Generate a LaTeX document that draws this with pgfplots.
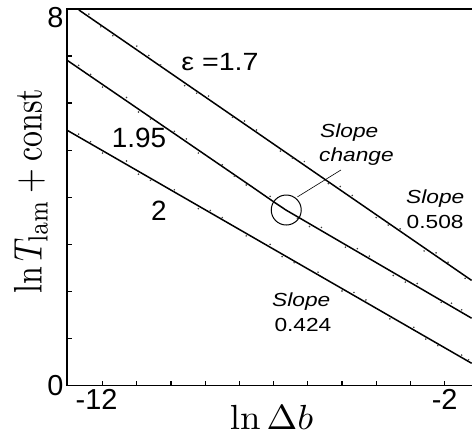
\documentclass[border=0pt]{standalone}
\usepackage[no-math]{fontspec}
\setmainfont{Liberation Sans}
\usepackage{pgfplots}
\pgfplotsset{compat=1.18}

\begin{document}
\begin{tikzpicture}[x=1bp,y=1bp]
\path[use as bounding box] (0,0) rectangle (472,438);
\begin{axis}[
  at={(67bp,52.3bp)}, anchor=south west,
  scale only axis, width=411.8bp, height=376.8bp,
  xmin=-13.04, xmax=-1, ymin=0, ymax=8,
  axis line style={line width=1.5bp},
  tick style={line width=1.2bp, black},
  major tick length=5bp, tick align=inside,
  xtick pos=left, ytick pos=left,
  xtick={-12}, xticklabels={-12\hspace*{12bp}},
  extra x ticks={-11,-10,-9,-8,-7,-6,-5,-4,-3,-2},
  extra x tick labels={,,,,,,,,,-2},
  ytick={0}, yticklabels={0},
  extra y ticks={1,2,3,4,5,6,7,8},
  extra y tick labels={,,,,,,,8},
  extra y tick style={yticklabel style={yshift=-9bp}},
  tick label style={font=\fontsize{29}{29}\selectfont},
  /pgf/number format/assume math mode=true,
]
% fitted lines
\addplot[black, line width=1.5bp] coordinates {(-12.693,7.977) (-1.21,2.2355)};
\addplot[black, line width=1.5bp] coordinates {(-13.04,6.911) (-11,5.897) (-9,4.903) (-7.6,4.207) (-7.0,3.905) (-6.64,3.730) (-6.2,3.544) (-5,3.036) (-3,2.19) (-1.21,1.433)};
\addplot[black, line width=1.5bp] coordinates {(-13.04,5.425) (-1.21,0.476)};
% data dots
\addplot[only marks, mark=*, mark size=0.55bp, gray!50!black] coordinates {
(-12.4,7.89) (-11.7,7.43) (-11.0,7.21) (-10.3,6.81) (-9.6,6.37) (-8.9,6.15) (-8.2,5.70) (-7.5,5.43) (-6.8,4.98) (-6.1,4.76) (-5.4,4.29) (-4.7,4.04) (-4.0,3.57) (-3.3,3.33) (-2.6,2.86) (-1.9,2.62) (-1.4,2.28)
(-12.05,7.62) (-10.65,7.01) (-9.25,6.21) (-7.85,5.62) (-6.45,4.83) (-5.05,4.23) (-3.65,3.41) (-2.25,2.82)};
\addplot[only marks, mark=*, mark size=0.55bp, gray!50!black] coordinates {
(-12.7,6.80) (-12.0,6.34) (-11.3,6.12) (-10.6,5.66) (-9.9,5.40) (-9.2,4.94) (-8.5,4.69) (-7.8,4.26) (-7.1,4.02) (-6.3,3.55) (-5.6,3.36) (-4.9,2.94) (-4.2,2.75) (-3.5,2.34) (-2.8,2.17) (-2.1,1.77) (-1.5,1.61)
(-12.35,6.61) (-10.95,5.81) (-9.55,5.24) (-8.15,4.45) (-5.95,3.38) (-4.55,2.91) (-3.15,2.20) (-1.8,1.75)};
\addplot[only marks, mark=*, mark size=0.55bp, gray!50!black] coordinates {
(-12.7,5.34) (-12.0,4.94) (-11.3,4.77) (-10.6,4.36) (-9.9,4.16) (-9.2,3.76) (-8.5,3.57) (-7.8,3.18) (-7.1,3.00) (-6.4,2.61) (-5.7,2.41) (-5.0,2.01) (-4.3,1.82) (-3.6,1.42) (-2.9,1.24) (-2.2,0.85) (-1.5,0.65)
(-12.35,5.18) (-10.95,4.49) (-8.85,3.72) (-6.75,2.74) (-4.65,1.98) (-2.55,0.99) (-1.3,0.55)};
% slope-change marker
\draw[line width=1bp] (axis cs:-6.63,3.73) circle[radius=15bp];
\draw[line width=0.6bp] (axis cs:-6.30,4.01) -- (axis cs:-5.03,4.58);
\end{axis}
% axis labels (Computer Modern math)
\begin{scope}[shift={(41.7,247.1)}, rotate=90, xscale=3.2, yscale=4.0]
\node[transform shape, anchor=base, inner sep=0pt, font=\normalsize] at (0,0) {$\ln T_{\mathrm{lam}}+\mathrm{const}$};
\end{scope}
\begin{scope}[shift={(271.5,8)}, xscale=3.7, yscale=3.5]
\node[transform shape, anchor=base, inner sep=0pt, font=\normalsize] at (0,0) {$\ln\Delta b$};
\end{scope}
% annotations
\node[inner sep=0pt, font=\fontsize{25}{25}\selectfont, xscale=1.15, transform shape] at (220,375.5) {ε =1.7};
\node[inner sep=0pt, font=\fontsize{28}{28}\selectfont] at (139,300.5) {1.95};
\node[inner sep=0pt, font=\fontsize{28}{28}\selectfont] at (159,227) {2};
\begin{scope}[every node/.style={inner sep=0pt, anchor=base west, font=\fontsize{19}{19}\selectfont, xscale=1.2, transform shape}]
\node at (320,300) {\textit{Slope}};
\node at (319,276.3) {\textit{change}};
\node at (406,234.7) {\textit{Slope}};
\node at (406.5,209.3) {0.508};
\node at (272,131.7) {\textit{Slope}};
\node at (274.3,106.7) {0.424};
\end{scope}
\end{tikzpicture}
\end{document}
